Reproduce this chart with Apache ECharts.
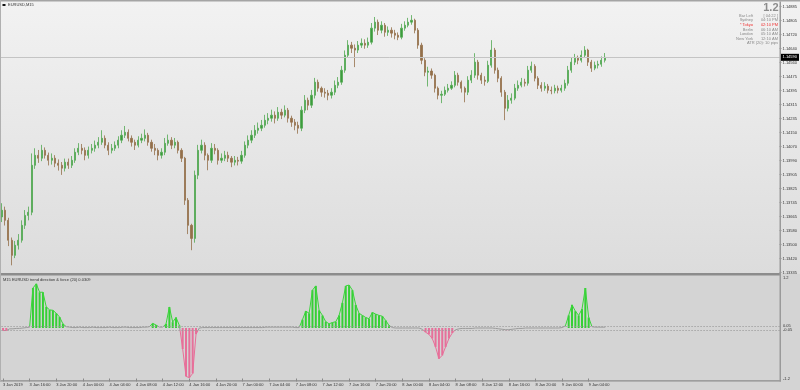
<!DOCTYPE html>
<html><head><meta charset="utf-8">
<script src="https://cdn.jsdelivr.net/npm/echarts@6/dist/echarts.min.js"></script>
<style>html,body{margin:0;padding:0;background:#e4e4e4}#c{width:800px;height:390px}</style>
</head><body><div id="c"></div>
<script>
const priceTicks = ["1.13335","1.13420","1.13500","1.13580","1.13665","1.13745","1.13825","1.13905","1.13990","1.14070","1.14150","1.14235","1.14315","1.14395","1.14475","1.14560","1.14640","1.14720","1.14805","1.14885"];
const timeLabels = ["3 Jan 2019","3 Jan 16:00","3 Jan 20:00","4 Jan 00:00","4 Jan 04:00","4 Jan 08:00","4 Jan 12:00","4 Jan 16:00","4 Jan 20:00","7 Jan 00:00","7 Jan 04:00","7 Jan 08:00","7 Jan 12:00","7 Jan 16:00","7 Jan 20:00","8 Jan 00:00","8 Jan 04:00","8 Jan 08:00","8 Jan 12:00","8 Jan 16:00","8 Jan 20:00","9 Jan 00:00","9 Jan 04:00"];
const firstOpen = 1.13660;
const closes = [
1.13699,1.13640,1.13524,1.13436,1.13495,1.13524,1.13611,1.13669,1.13687,1.13961,
1.14019,1.14002,1.14048,1.14019,1.13990,1.14002,1.13973,1.13961,1.13944,1.13979,
1.13961,1.13990,1.14037,1.14060,1.14048,1.14019,1.14048,1.14060,1.14078,1.14095,
1.14118,1.14078,1.14048,1.14060,1.14078,1.14107,1.14136,1.14153,1.14118,1.14095,
1.14078,1.14107,1.14118,1.14136,1.14095,1.14060,1.14048,1.14019,1.14037,1.14089,
1.14107,1.14078,1.14095,1.14048,1.14002,1.13757,1.13611,1.13535,1.13903,1.14048,
1.14078,1.14019,1.13990,1.14060,1.14048,1.13990,1.14002,1.14019,1.14002,1.13979,
1.13990,1.13985,1.14019,1.14078,1.14107,1.14136,1.14165,1.14177,1.14194,1.14223,
1.14235,1.14253,1.14235,1.14270,1.14253,1.14282,1.14235,1.14212,1.14194,1.14177,
1.14282,1.14340,1.14311,1.14369,1.14445,1.14410,1.14387,1.14381,1.14369,1.14387,
1.14427,1.14445,1.14515,1.14602,1.14661,1.14643,1.14632,1.14661,1.14672,1.14661,
1.14678,1.14760,1.14795,1.14748,1.14777,1.14736,1.14748,1.14731,1.14719,1.14707,
1.14760,1.14777,1.14795,1.14806,1.14748,1.14661,1.14573,1.14503,1.14510,1.14486,
1.14410,1.14369,1.14375,1.14398,1.14410,1.14427,1.14486,1.14445,1.14410,1.14387,
1.14457,1.14486,1.14562,1.14486,1.14457,1.14450,1.14544,1.14632,1.14515,1.14468,
1.14387,1.14293,1.14340,1.14352,1.14410,1.14427,1.14445,1.14439,1.14515,1.14538,
1.14468,1.14427,1.14410,1.14422,1.14398,1.14395,1.14410,1.14398,1.14410,1.14439,
1.14515,1.14562,1.14585,1.14573,1.14602,1.14632,1.14562,1.14527,1.14544,1.14550,
1.14573,1.14590];
const highs = [
1.13740,1.13720,1.13655,1.13540,1.13520,1.13560,1.13640,1.13700,1.13720,1.14030,
1.14060,1.14050,1.14080,1.14065,1.14035,1.14030,1.14020,1.13995,1.13980,1.14000,
1.14000,1.14015,1.14060,1.14090,1.14085,1.14065,1.14070,1.14085,1.14105,1.14125,
1.14165,1.14135,1.14095,1.14085,1.14100,1.14130,1.14165,1.14190,1.14170,1.14135,
1.14110,1.14130,1.14145,1.14170,1.14150,1.14110,1.14085,1.14060,1.14060,1.14120,
1.14140,1.14125,1.14120,1.14105,1.14060,1.14010,1.13770,1.13620,1.13930,1.14080,
1.14110,1.14095,1.14030,1.14090,1.14085,1.14060,1.14030,1.14045,1.14040,1.14015,
1.14015,1.14010,1.14045,1.14100,1.14135,1.14165,1.14195,1.14210,1.14225,1.14255,
1.14265,1.14285,1.14275,1.14300,1.14290,1.14310,1.14295,1.14250,1.14230,1.14215,
1.14305,1.14370,1.14355,1.14400,1.14470,1.14460,1.14420,1.14410,1.14400,1.14410,
1.14455,1.14475,1.14540,1.14630,1.14690,1.14680,1.14665,1.14685,1.14700,1.14695,
1.14705,1.14790,1.14825,1.14810,1.14800,1.14790,1.14770,1.14765,1.14750,1.14735,
1.14785,1.14800,1.14820,1.14836,1.14815,1.14760,1.14675,1.14585,1.14535,1.14525,
1.14495,1.14420,1.14395,1.14420,1.14435,1.14450,1.14510,1.14500,1.14455,1.14420,
1.14480,1.14515,1.14614,1.14575,1.14500,1.14480,1.14570,1.14690,1.14645,1.14530,
1.14480,1.14400,1.14370,1.14380,1.14435,1.14455,1.14470,1.14465,1.14540,1.14565,
1.14550,1.14480,1.14445,1.14445,1.14435,1.14420,1.14430,1.14425,1.14430,1.14460,
1.14540,1.14590,1.14610,1.14600,1.14630,1.14655,1.14640,1.14575,1.14565,1.14570,
1.14595,1.14615];
const lows = [
1.13630,1.13610,1.13490,1.13378,1.13420,1.13470,1.13510,1.13590,1.13640,1.13670,
1.13940,1.13975,1.13985,1.14000,1.13960,1.13965,1.13950,1.13930,1.13905,1.13925,
1.13940,1.13945,1.13975,1.14020,1.14025,1.13990,1.14000,1.14030,1.14040,1.14060,
1.14080,1.14060,1.14020,1.14030,1.14045,1.14060,1.14090,1.14120,1.14100,1.14070,
1.14050,1.14065,1.14090,1.14100,1.14075,1.14040,1.14020,1.13990,1.14000,1.14020,
1.14075,1.14055,1.14060,1.14030,1.13980,1.13730,1.13560,1.13466,1.13510,1.13880,
1.14030,1.13990,1.13932,1.13975,1.14025,1.13965,1.13975,1.13985,1.13980,1.13950,
1.13960,1.13960,1.13970,1.14005,1.14060,1.14090,1.14120,1.14145,1.14160,1.14180,
1.14200,1.14215,1.14205,1.14220,1.14230,1.14240,1.14210,1.14185,1.14165,1.14145,
1.14160,1.14265,1.14282,1.14295,1.14350,1.14390,1.14360,1.14355,1.14340,1.14350,
1.14370,1.14410,1.14430,1.14500,1.14590,1.14615,1.14533,1.14615,1.14645,1.14640,
1.14645,1.14665,1.14740,1.14720,1.14730,1.14710,1.14715,1.14705,1.14695,1.14690,
1.14695,1.14745,1.14765,1.14780,1.14730,1.14640,1.14550,1.14480,1.14420,1.14465,
1.14385,1.14345,1.14323,1.14365,1.14385,1.14400,1.14415,1.14425,1.14385,1.14328,
1.14370,1.14440,1.14470,1.14460,1.14435,1.14425,1.14440,1.14530,1.14495,1.14445,
1.14360,1.14224,1.14275,1.14320,1.14340,1.14395,1.14415,1.14420,1.14425,1.14500,
1.14450,1.14405,1.14390,1.14395,1.14380,1.14375,1.14380,1.14380,1.14385,1.14395,
1.14425,1.14500,1.14545,1.14550,1.14560,1.14590,1.14540,1.14505,1.14515,1.14525,
1.14535,1.14560];
const force = [
-0.06,-0.06,-0.02,-0.02,-0.01,-0.01,0.00,0.01,0.02,0.95,
1.05,0.85,0.85,0.50,0.43,0.42,0.35,0.26,0.10,0.03,
0.02,0.01,0.01,0.02,0.01,0.01,0.01,0.02,0.01,0.01,
0.01,0.01,0.02,0.01,0.01,0.01,0.02,0.02,0.01,0.01,
0.01,0.01,0.02,0.02,0.03,0.11,0.07,0.02,0.02,0.10,
0.50,0.14,0.25,0.06,-0.50,-1.15,-1.18,-1.08,-0.15,0.00,
0.01,0.01,0.01,0.01,0.01,0.01,0.01,0.01,0.01,0.01,
0.01,0.01,0.01,0.01,0.01,0.01,0.01,0.01,0.01,0.02,
0.02,0.02,0.02,0.02,0.02,0.02,0.02,0.02,0.01,0.01,
0.20,0.40,0.35,0.90,1.00,0.42,0.30,0.15,0.10,0.13,
0.15,0.30,0.60,1.00,1.02,0.90,0.55,0.35,0.30,0.25,
0.22,0.37,0.33,0.30,0.28,0.18,0.06,0.01,0.00,0.00,
0.00,0.00,0.00,0.00,0.00,0.00,-0.03,-0.10,-0.15,-0.25,
-0.45,-0.73,-0.65,-0.45,-0.25,-0.12,-0.04,-0.02,-0.01,-0.01,
-0.01,-0.01,0.00,0.00,0.00,0.00,0.00,0.00,-0.01,-0.02,
-0.03,-0.04,-0.04,-0.03,-0.02,-0.01,-0.01,0.00,0.00,0.00,
0.00,0.00,0.00,0.00,0.00,0.00,0.00,0.00,0.01,0.05,
0.30,0.55,0.40,0.30,0.45,0.95,0.25,0.03,0.02,0.02,
0.02,0.02];
const levelBand = 0.05;
const totalSlots = 234;

// ---- build ----
const BASE = 1.13335, TOP = 1.14885, STEP = (TOP - BASE) / 19;
const pt = p => (p - BASE) * 1e5;
const cats = [];
for (let i = 0; i < totalSlots; i++) cats.push(String(i));
const candles = closes.map((c, i) => {
  const o = i ? closes[i - 1] : firstOpen;
  const h = Math.max(highs[i], o, c), l = Math.min(lows[i], o, c);
  return [pt(o), pt(c), pt(l), pt(h)];
});
const barData = force.map(v => Math.abs(v) > levelBand ? {value: v, itemStyle: {color: v > 0 ? '#35d035' : '#e6709a'}} : '-');
const last = closes[closes.length - 1];
const F = 'Liberation Sans, Arial, sans-serif';
const labelled = idx => idx % 8 === 0 && idx / 8 < timeLabels.length;

const chart = echarts.init(document.getElementById('c'), null, {renderer: 'canvas'});
const txt = (x, y, t, opt) => Object.assign({type: 'text', x, y, z: 100, style: Object.assign({text: t, fill: '#8a8a8a', font: '4px ' + F, align: 'right', verticalAlign: 'middle'}, opt || {})});
const infoRows = [["Bar Left","[ 04:22 ]"],["Sydney","04:10 PM"],["* Tokyo","02:10 PM"],["Berlin","06:10 AM"],["London","05:10 AM"],["New York","12:10 AM"]];
const graphics = [
  {type: 'rect', z: -10, shape: {x: 0, y: 0, width: 800, height: 274}, style: {fill: new echarts.graphic.LinearGradient(0, 0, 0, 1, [{offset: 0, color: '#f2f2f2'}, {offset: 1, color: '#dcdcdc'}])}},
  {type: 'rect', z: -10, shape: {x: 0, y: 274, width: 800, height: 116}, style: {fill: '#d4d4d4'}},
  {type: 'rect', z: 50, shape: {x: 0, y: 0, width: 800, height: 1.5}, style: {fill: '#a4a4a4'}},
  {type: 'rect', z: 50, shape: {x: 0, y: 273, width: 781, height: 2.5}, style: {fill: '#8c8c8c'}},
  {type: 'rect', z: 50, shape: {x: 0, y: 380.3, width: 781, height: 1.2}, style: {fill: '#8c8c8c'}},
  {type: 'rect', z: 50, shape: {x: 779.5, y: 1.5, width: 1.5, height: 380}, style: {fill: '#9a9a9a'}},
  {type: 'rect', z: 50, shape: {x: 0, y: 0, width: 1, height: 381}, style: {fill: '#b0b0b0'}},
  {type: 'rect', z: 100, shape: {x: 2.5, y: 4, width: 3, height: 2}, style: {fill: '#111'}},
  txt(8, 5, 'EURUSD,M15', {fill: '#333', align: 'left'}),
  txt(3, 279.5, 'M15 EURUSD trend direction & force (20) 0.0309', {fill: '#333', align: 'left'}),
  txt(778.5, 8, '1.2', {font: 'bold 11px ' + F, fill: '#8c8c8c'}),
  txt(778, 43.3, 'ATR (20): 10 pips')
];
infoRows.forEach((r, k) => {
  const y = 15.7 + k * 4.6;
  const col = k === 2 ? '#ee3030' : '#8a8a8a';
  graphics.push(txt(753, y, r[0], {fill: col}));
  graphics.push(txt(778, y, r[1], {fill: col}));
});

chart.setOption({
  animation: false,
  backgroundColor: 'transparent',
  graphic: graphics,
  grid: [
    {left: 0, right: 20, top: 6.7, height: 266},
    {left: 0, right: 20, top: 277.5, height: 101}
  ],
  xAxis: [
    {type: 'category', gridIndex: 0, data: cats, boundaryGap: true, axisLine: {show: false, onZero: false}, axisTick: {show: false}, axisLabel: {show: false}, splitLine: {show: false}},
    {type: 'category', gridIndex: 1, data: cats, boundaryGap: true, position: 'bottom', axisLine: {show: false, onZero: false},
     axisTick: {show: true, interval: labelled, alignWithLabel: true, length: 3, lineStyle: {color: '#555', width: 0.6}},
     axisLabel: {show: true, interval: labelled, margin: 4, align: 'left', fontSize: 4, fontFamily: F, color: '#333',
       formatter: (v, idx) => labelled(idx) ? timeLabels[idx / 8] : ''},
     splitLine: {show: false}}
  ],
  yAxis: [
    {type: 'value', gridIndex: 0, position: 'right', min: 0, max: pt(TOP), interval: STEP * 1e5, scale: false,
     axisLine: {show: false}, axisTick: {show: true, length: 2, lineStyle: {color: '#666', width: 0.6}},
     axisLabel: {margin: 3, fontSize: 4, fontFamily: F, color: '#333',
       formatter: v => priceTicks[Math.round(v / (STEP * 1e5))] || ''},
     splitLine: {show: false}},
    {type: 'value', gridIndex: 1, position: 'right', min: -1.2, max: 1.2, interval: 0.05,
     axisLine: {show: false}, axisTick: {show: false},
     axisLabel: {margin: 3, fontSize: 4, fontFamily: F, color: '#333',
       formatter: v => { const a = Math.abs(v); if (Math.abs(a - 1.2) < 1e-6) return v > 0 ? '1.2' : '-1.2'; if (Math.abs(a - 0.05) < 1e-6) return v > 0 ? '0.05' : '-0.05'; return ''; }},
     splitLine: {show: false}}
  ],
  visualMap: {type: 'piecewise', show: false, seriesIndex: 2, dimension: 1,
    pieces: [{gt: levelBand, color: '#3ad43a'}, {lt: -levelBand, color: '#e86d98'}, {gte: -levelBand, lte: levelBand, color: '#9a9a9a'}]},
  series: [
    {type: 'candlestick', xAxisIndex: 0, yAxisIndex: 0, data: candles, barWidth: 1.7, clip: true,
     itemStyle: {color: '#3c9c3c', color0: '#94704a', borderColor: '#52a852', borderColor0: '#94704a', borderWidth: 0.8},
     markLine: {symbol: 'none', silent: true, data: [{yAxis: pt(last)}],
       lineStyle: {color: '#c4c4c4', width: 1, type: 'solid'},
       label: {show: true, position: 'end', distance: 1, formatter: last.toFixed(5), backgroundColor: '#000', color: '#fff', fontSize: 4, fontFamily: F, padding: [1.5, 2]}}},
    {type: 'bar', xAxisIndex: 1, yAxisIndex: 1, data: barData, barWidth: 2, z: 2,
     markLine: {symbol: 'none', silent: true, data: [{yAxis: levelBand}, {yAxis: -levelBand}],
       lineStyle: {color: '#9a9a9a', width: 0.8, type: [1.5, 1.5]}, label: {show: false}}},
    {type: 'line', xAxisIndex: 1, yAxisIndex: 1, data: force, symbol: 'none', lineStyle: {width: 1}, z: 3}
  ]
});
</script></body></html>
